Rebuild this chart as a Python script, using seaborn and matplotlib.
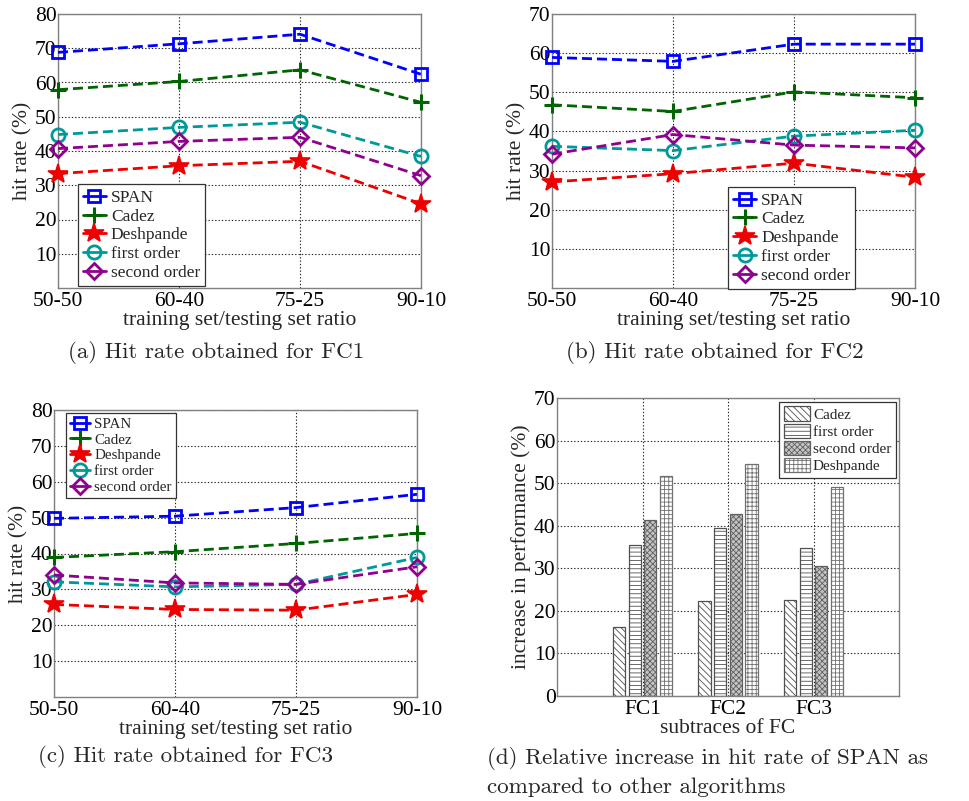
import numpy as np
import pandas as pd
import matplotlib
matplotlib.use("Agg")
import matplotlib.pyplot as plt
from matplotlib.patches import Patch
import seaborn as sns

# ---------------- data ----------------
ratios = ["50-50", "60-40", "75-25", "90-10"]
series_names = ["SPAN", "Cadez", "Deshpande", "first order", "second order"]

fc1_span = [68.8, 71.3, 74.1, 62.4]
fc1_cadez = [57.9, 60.3, 63.7, 54.2]
fc1_deshpande = [33.4, 35.7, 37.0, 24.6]
fc1_first = [44.8, 46.9, 48.4, 38.4]
fc1_second = [40.7, 42.8, 44.0, 32.8]

fc2_span = [58.9, 57.9, 62.3, 62.3]
fc2_cadez = [46.8, 45.1, 50.1, 48.6]
fc2_deshpande = [27.1, 29.2, 31.9, 28.3]
fc2_first = [36.2, 35.1, 38.8, 40.3]
fc2_second = [34.2, 39.2, 36.5, 35.8]

fc3_span = [49.8, 50.4, 52.8, 56.5]
fc3_cadez = [38.9, 40.5, 42.8, 45.6]
fc3_deshpande = [25.8, 24.4, 24.2, 28.6]
fc3_first = [32.1, 30.7, 31.4, 38.9]
fc3_second = [34.0, 31.8, 31.4, 36.3]

subtraces = ["FC1", "FC2", "FC3"]
bar_methods = ["Cadez", "first order", "second order", "Deshpande"]
inc_cadez = [16.1, 22.3, 22.5]
inc_first = [35.4, 39.4, 34.7]
inc_second = [41.3, 42.7, 30.5]
inc_deshpande = [51.6, 54.5, 49.1]

captions = ["(a) Hit rate obtained for FC1", "(b) Hit rate obtained for FC2",
            "(c) Hit rate obtained for FC3",
            "(d) Relative increase in hit rate of SPAN as",
            "compared to other algorithms"]

# ---------------- style ----------------
sns.set_theme(style="white")
plt.rcParams["font.family"] = ["Liberation Serif", "DejaVu Serif"]
plt.rcParams["hatch.linewidth"] = 0.6

styles = {
    "SPAN": dict(color="#0000ff", marker="s", ms=9, mfc="none", mew=2.0),
    "Cadez": dict(color="#006400", marker="+", ms=12, mew=2.2),
    "Deshpande": dict(color="#ee0000", marker="*", ms=15, mfc="#ee0000", mew=1.2),
    "first order": dict(color="#009999", marker="o", ms=9.5, mfc="none", mew=2.0),
    "second order": dict(color="#8f008f", marker="D", ms=8, mfc="none", mew=2.0),
}

W, H = 969, 801
fig = plt.figure(figsize=(W / 100, H / 100), dpi=100)


def px_axes(left, right, top, bottom):
    return fig.add_axes([left / W, 1 - bottom / H, (right - left) / W, (bottom - top) / H])


def style_axes(ax):
    ax.grid(True, linestyle=(0, (1.2, 1.8)), color="#222222", linewidth=0.8)
    for s in ax.spines.values():
        s.set_color("#808080")
        s.set_linewidth(1.0)
    ax.tick_params(axis="both", direction="in", length=4, color="#808080",
                   labelsize=15.5, labelcolor="black")
    ax.tick_params(axis="y", pad=1)
    ax.tick_params(axis="x", pad=3)


def line_panel(ax, data, ymax, legend_kw, legend_fs):
    for name, vals in zip(series_names, data):
        st = styles[name]
        sns.lineplot(x=ratios, y=vals, ax=ax, sort=False, label=name,
                     color=st["color"], linestyle=(0, (3.6, 1.8)), linewidth=2.0,
                     marker=st["marker"], markersize=st["ms"],
                     markerfacecolor=st.get("mfc", st["color"]),
                     markeredgecolor=st["color"], markeredgewidth=st["mew"],
                     clip_on=False, zorder=3)
    ax.set_xlim(0, 3)
    ax.set_ylim(0, ymax)
    ax.set_yticks(np.arange(10, ymax + 1, 10))
    ax.set_xticks(range(4))
    ax.set_xticklabels(ratios)
    ax.set_xlabel("training set/testing set ratio", fontsize=15.5, labelpad=0)
    ax.set_ylabel("hit rate (%)", fontsize=15.5, labelpad=2)
    style_axes(ax)
    leg = ax.legend(fontsize=legend_fs, frameon=True, fancybox=False,
                    edgecolor="#333333", framealpha=1, borderaxespad=0,
                    handlelength=1.3, handletextpad=0.3, labelspacing=0.15,
                    borderpad=0.3, **legend_kw)
    leg.set_zorder(5)
    leg.get_frame().set_linewidth(0.9)
    for h in leg.get_lines():
        h.set_linestyle("-")


ax_a = px_axes(58, 421, 14, 288)
line_panel(ax_a, [fc1_span, fc1_cadez, fc1_deshpande, fc1_first, fc1_second], 80,
           dict(loc="lower left", bbox_to_anchor=(0.055, 0.007)), 12.5)

ax_b = px_axes(552, 915, 14, 288)
line_panel(ax_b, [fc2_span, fc2_cadez, fc2_deshpande, fc2_first, fc2_second], 70,
           dict(loc="lower left", bbox_to_anchor=(0.485, -0.003)), 12.5)

ax_c = px_axes(54, 417, 410, 697)
line_panel(ax_c, [fc3_span, fc3_cadez, fc3_deshpande, fc3_first, fc3_second], 80,
           dict(loc="upper left", bbox_to_anchor=(0.033, 0.99)), 10.8)

# ---------------- bar panel ----------------
ax_d = px_axes(557, 899, 398, 696)
df = pd.DataFrame({
    "subtrace": subtraces * 4,
    "method": [m for m in bar_methods for _ in subtraces],
    "value": inc_cadez + inc_first + inc_second + inc_deshpande,
})
sns.barplot(data=df, x="subtrace", y="value", hue="method", hue_order=bar_methods,
            order=subtraces, ax=ax_d, width=0.73, gap=0.21, legend=False,
            errorbar=None, saturation=1)
hatches = ["\\\\\\\\\\", "----", "xxxxxx", "++++"]
faces = ["white", "white", "#c4c4c4", "white"]
edges = ["#505050", "#505050", "#606060", "#707070"]
for cont, h, fc, ec in zip(ax_d.containers, hatches, faces, edges):
    for p in cont:
        p.set_facecolor(fc)
        p.set_hatch(h)
        p.set_edgecolor(ec)
        p.set_linewidth(0.9)
ax_d.set_xlim(-1, 3)
ax_d.set_ylim(0, 70)
ax_d.set_yticks(np.arange(0, 71, 10))
ax_d.set_axisbelow(True)
ax_d.set_xlabel("subtraces of FC", fontsize=15.5, labelpad=0)
ax_d.set_ylabel("increase in performance (%)", fontsize=15.5, labelpad=2)
style_axes(ax_d)
handles = [Patch(facecolor=fc, edgecolor=ec, hatch=h, linewidth=0.9, label=m)
           for m, h, fc, ec in zip(bar_methods, hatches, faces, edges)]
leg = ax_d.legend(handles=handles, loc="upper right", bbox_to_anchor=(0.991, 0.987),
                  fontsize=11, frameon=True, fancybox=False, edgecolor="#333333",
                  framealpha=1, borderaxespad=0, handlelength=1.7, handleheight=1.1,
                  handletextpad=0.2, labelspacing=0.1, borderpad=0.3)
leg.get_frame().set_linewidth(0.9)

# ---------------- captions ----------------
cap_kw = dict(fontsize=16.6, family=["cmr10", "DejaVu Serif"], va="center")
fig.text(216 / W, 1 - 353 / H, captions[0], ha="center", **cap_kw)
fig.text(714.5 / W, 1 - 353 / H, captions[1], ha="center", **cap_kw)
fig.text(185.5 / W, 1 - 757 / H, captions[2], ha="center", **cap_kw)
fig.text(487 / W, 1 - 759 / H, captions[3], ha="left", **cap_kw)
fig.text(487 / W, 1 - 787 / H, captions[4], ha="left", **cap_kw)

fig.savefig("out.png", dpi=100)
